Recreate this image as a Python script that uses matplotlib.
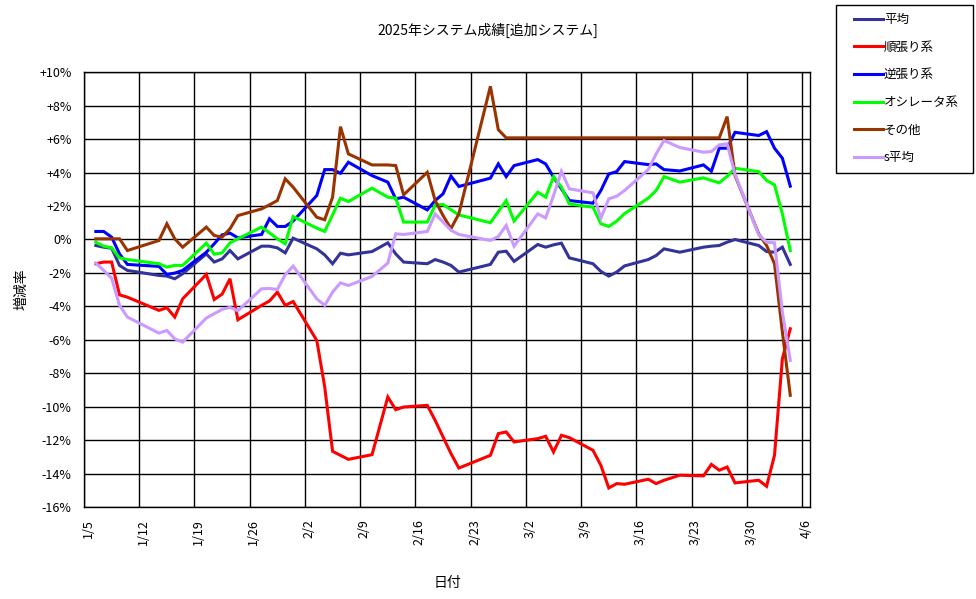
import numpy as np
import pandas as pd
import matplotlib
matplotlib.use('Agg')
import matplotlib.pyplot as plt
from matplotlib.patches import Rectangle
from matplotlib.transforms import ScaledTranslation

plt.rcParams['font.family'] = ['Noto Sans CJK JP', 'DejaVu Sans']

# 営業日 (2025)
days = [
    "01-06", "01-07", "01-08", "01-09", "01-10",
    "01-14", "01-15", "01-16", "01-17",
    "01-20", "01-21", "01-22", "01-23", "01-24",
    "01-27", "01-28", "01-29", "01-30", "01-31",
    "02-03", "02-04", "02-05", "02-06", "02-07",
    "02-10", "02-12", "02-13", "02-14",
    "02-17", "02-18", "02-19", "02-20", "02-21",
    "02-25", "02-26", "02-27", "02-28",
    "03-03", "03-04", "03-05", "03-06", "03-07",
    "03-10", "03-11", "03-12", "03-13", "03-14",
    "03-17", "03-18", "03-19", "03-21",
    "03-24", "03-25", "03-26", "03-27", "03-28",
    "03-31", "04-01", "04-02", "04-03", "04-04",
]

heikin = [-0.36, -0.46, -0.52, -1.55, -1.85,
          -2.15, -2.19, -2.35, -2.05,
          -0.86, -1.35, -1.16, -0.66, -1.16,
          -0.40, -0.40, -0.50, -0.80, 0.08,
          -0.56, -0.92, -1.45, -0.82, -0.92,
          -0.72, -0.20, -0.86, -1.35,
          -1.45, -1.20, -1.35, -1.55, -1.95,
          -1.49, -0.76, -0.70, -1.31,
          -0.30, -0.46, -0.32, -0.22, -1.10,
          -1.45, -1.91, -2.19, -1.95, -1.58,
          -1.20, -0.96, -0.56, -0.76,
          -0.46, -0.40, -0.36, -0.16, 0.00,
          -0.36, -0.72, -0.76, -0.46, -1.49]

junbari = [-1.45, -1.35, -1.35, -3.31, -3.45,
           -4.24, -4.08, -4.64, -3.55,
           -2.09, -3.59, -3.27, -2.35, -4.80,
           -3.94, -3.68, -3.15, -3.94, -3.71,
           -6.04, -8.80, -12.67, -12.91, -13.15,
           -12.87, -9.42, -10.18, -10.02,
           -9.92, -10.82, -11.81, -12.80, -13.67,
           -12.91, -11.61, -11.51, -12.11,
           -11.91, -11.77, -12.71, -11.71, -11.85,
           -12.61, -13.51, -14.86, -14.60, -14.64,
           -14.34, -14.60, -14.40, -14.10,
           -14.14, -13.45, -13.80, -13.61, -14.56,
           -14.40, -14.76, -12.91, -7.13, -5.34]

gyakubari = [0.48, 0.48, 0.14, -0.86, -1.49,
             -1.61, -2.09, -2.01, -1.85,
             -0.76, -0.26, 0.28, 0.38, 0.10,
             0.30, 1.24, 0.78, 0.78, 1.10,
             2.63, 4.18, 4.18, 3.96, 4.62,
             3.82, 3.43, 2.43, 2.53,
             1.77, 2.33, 2.73, 3.80, 3.17,
             3.67, 4.52, 3.76, 4.42,
             4.78, 4.52, 3.73, 3.03, 2.33,
             2.17, 2.93, 3.92, 4.06, 4.66,
             4.48, 4.52, 4.18, 4.10,
             4.46, 4.08, 5.46, 5.46, 6.41,
             6.22, 6.45, 5.46, 4.86, 3.19]

oscillator = [-0.16, -0.40, -0.50, -1.10, -1.20,
              -1.45, -1.65, -1.55, -1.55,
              -0.22, -0.88, -0.80, -0.20, 0.04,
              0.74, 0.40, 0.04, -0.26, 1.37,
              0.68, 0.48, 1.47, 2.47, 2.27,
              3.07, 2.53, 2.47, 1.04,
              1.04, 2.07, 2.09, 1.78, 1.47,
              1.00, 1.67, 2.33, 1.10,
              2.83, 2.53, 3.75, 3.13, 2.13,
              1.93, 0.94, 0.78, 1.10, 1.55,
              2.47, 2.93, 3.76, 3.43,
              3.69, 3.53, 3.39, 3.78, 4.26,
              4.06, 3.53, 3.27, 1.53, -0.66]

sonota = [0.04, 0.04, 0.04, 0.04, -0.66,
          -0.06, 0.94, 0.04, -0.46,
          0.74, 0.24, 0.14, 0.64, 1.43,
          1.83, 2.07, 2.33, 3.63, 3.13,
          1.33, 1.18, 2.53, 6.75, 5.12,
          4.46, 4.46, 4.42, 2.67,
          4.02, 2.33, 1.43, 0.65, 1.53,
          9.16, 6.57, 6.08, 6.08,
          6.08, 6.08, 6.08, 6.08, 6.08,
          6.08, 6.08, 6.08, 6.08, 6.08,
          6.08, 6.08, 6.08, 6.08,
          6.08, 6.08, 6.08, 7.35, 3.82,
          0.34, -0.36, -1.45, -5.54, -9.32]

s_heikin = [-1.41, -1.85, -2.31, -3.94, -4.64,
            -5.60, -5.44, -5.94, -6.14,
            -4.70, -4.44, -4.18, -4.06, -4.26,
            -2.95, -2.93, -2.99, -2.11, -1.59,
            -3.55, -3.94, -3.15, -2.59, -2.75,
            -2.21, -1.41, 0.34, 0.30,
            0.48, 1.53, 1.04, 0.55, 0.30,
            -0.06, 0.18, 0.84, -0.40,
            1.53, 1.29, 2.63, 4.08, 3.03,
            2.79, 1.27, 2.43, 2.59, 2.93,
            4.18, 5.12, 5.92, 5.50,
            5.22, 5.26, 5.66, 5.72, 3.90,
            0.28, -0.16, -0.20, -4.34, -7.23]

series = [
    ("平均", heikin, "#333399"),
    ("順張り系", junbari, "#ff0000"),
    ("逆張り系", gyakubari, "#0000ff"),
    ("オシレータ系", oscillator, "#00ff00"),
    ("その他", sonota, "#993300"),
    ("s平均", s_heikin, "#cc99ff"),
]

# 記録は日中なので半日ずらす
x = pd.to_datetime(["2025-" + d for d in days]) + pd.Timedelta(hours=12)
start = pd.Timestamp("2025-01-05")

W, H = 976, 599
fig = plt.figure(figsize=(W / 100, H / 100), dpi=100)
ax = fig.add_axes([84 / W, 1 - 507 / H, (810 - 84) / W, (507 - 72.3) / H])

for name, vals, col in series:
    ax.plot(x, vals, color=col, lw=2.2, label=name, solid_joinstyle='miter')

ax.set_xlim(start, start + pd.Timedelta(days=92))
ax.set_ylim(-16, 10)

ticks = pd.date_range(start, periods=14, freq="7D")
ax.set_xticks(ticks)
ax.set_xticklabels([f"{t.month}/{t.day}" for t in ticks], rotation=90, fontsize=9)
yt = np.arange(-16, 11, 2)
ax.set_yticks(yt)
ax.set_yticklabels([("+%d%%" % v) if v > 0 else ("%d%%" % v) for v in yt], fontsize=9)
ax.tick_params(length=0, pad=9)
for lab in ax.get_xticklabels():
    lab.set_transform(lab.get_transform() + ScaledTranslation(4 / 100, 0, fig.dpi_scale_trans))

ax.grid(True, color="black", lw=1)
ax.set_axisbelow(True)
for sp in ax.spines.values():
    sp.set_color("black")
    sp.set_linewidth(1)

ax.set_xlabel("日付", fontsize=10, labelpad=22)
ax.set_ylabel("増減率", fontsize=10, labelpad=8)
fig.text(0.5, 1 - 30 / H, "2025年システム成績[追加システム]", ha="center", va="center", fontsize=10)

# 凡例の枠
fig.patches.append(Rectangle((836 / W, 1 - 173 / H), (973 - 836) / W, (173 - 5) / H,
                             transform=fig.transFigure, fill=False, ec="black", lw=1))
fig.legend(loc="upper left", bbox_to_anchor=(854 / W, 1 - 13 / H),
           fontsize=9, frameon=False, handlelength=2.3, handletextpad=0.1,
           labelspacing=1.17, borderpad=0, borderaxespad=0)

fig.savefig("out.png", dpi=100)
